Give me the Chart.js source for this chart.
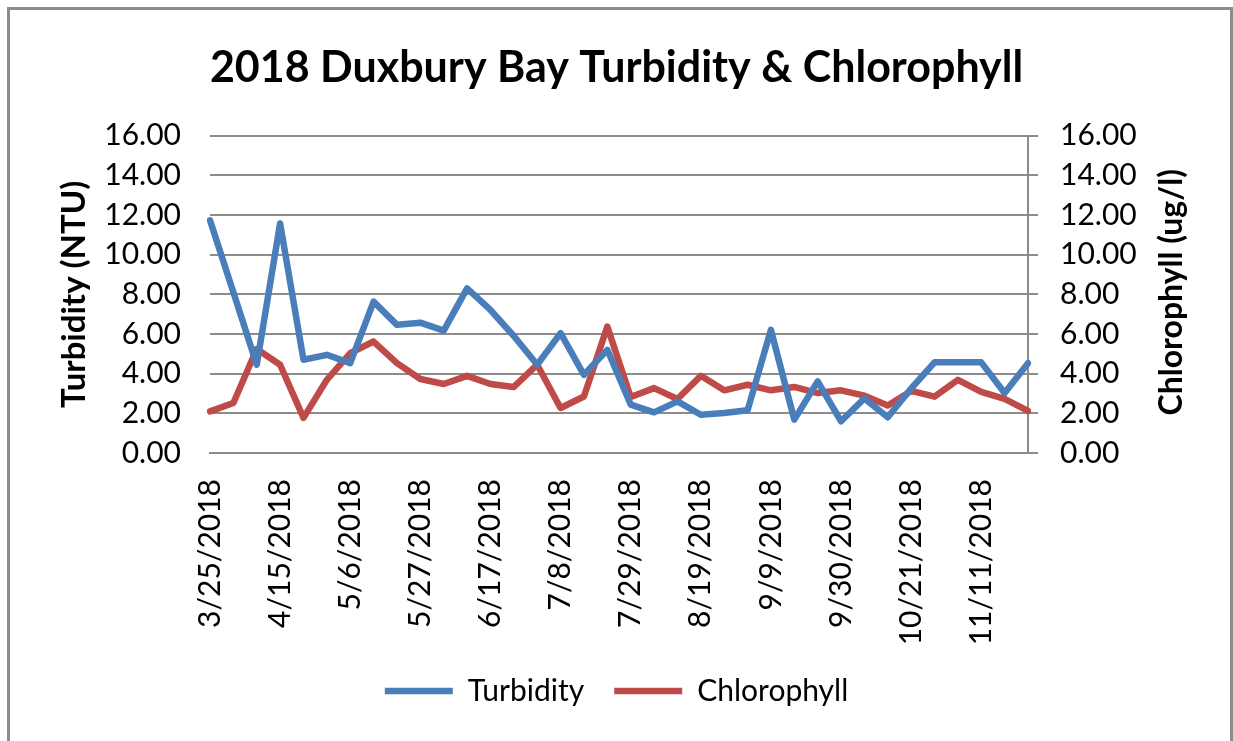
<!DOCTYPE html>
<html>
<head>
<meta charset="utf-8">
<script src="https://cdn.jsdelivr.net/npm/chart.js@4/dist/chart.umd.min.js"></script>
<style>
    body { margin: 0; background: #ffffff; }
    #marco {
        position: absolute; left: 7px; top: 7px; width: 1226px; height: 800px;
        box-sizing: border-box; border: 3px solid #8c8c8c;
    }
    #miGrafica { position: absolute; left: 0; top: 0; }
</style>
</head>
<body>
<div id="marco"></div>
<canvas id="miGrafica" width="1233" height="741"></canvas>
<script>
const fechas = [
    "3/25/2018", "4/1/2018", "4/8/2018", "4/15/2018", "4/22/2018", "4/29/2018",
    "5/6/2018", "5/13/2018", "5/20/2018", "5/27/2018", "6/3/2018", "6/10/2018",
    "6/17/2018", "6/24/2018", "7/1/2018", "7/8/2018", "7/15/2018", "7/22/2018",
    "7/29/2018", "8/5/2018", "8/12/2018", "8/19/2018", "8/26/2018", "9/2/2018",
    "9/9/2018", "9/16/2018", "9/23/2018", "9/30/2018", "10/7/2018", "10/14/2018",
    "10/21/2018", "10/28/2018", "11/4/2018", "11/11/2018", "11/18/2018", "11/25/2018"
];
const turbidity = [
    11.73, 8.1, 4.45, 11.57, 4.7, 4.95, 4.53, 7.63, 6.46, 6.57, 6.17, 8.3,
    7.21, 5.9, 4.45, 6.04, 3.94, 5.2, 2.44, 2.05, 2.6, 1.93, 2.02, 2.15,
    6.21, 1.68, 3.61, 1.6, 2.75, 1.8, 3.25, 4.57, 4.57, 4.57, 3.02, 4.53
];
const chlorophyll = [
    2.1, 2.52, 5.24, 4.45, 1.77, 3.69, 5.03, 5.62, 4.53, 3.73, 3.48, 3.89,
    3.48, 3.33, 4.45, 2.27, 2.85, 6.37, 2.82, 3.27, 2.72, 3.89, 3.16, 3.44,
    3.16, 3.33, 3.02, 3.16, 2.89, 2.39, 3.13, 2.84, 3.69, 3.08, 2.73, 2.12
];
const titulo = "2018 Duxbury Bay Turbidity & Chlorophyll";
const tituloIzq = "Turbidity (NTU)";
const tituloDer = "Chlorophyll (ug/l)";
const pasoEtiquetas = 3;

const gris = "#8c8c8c";
const fuente = "Lato";

// titulo del eje derecho, leido de abajo hacia arriba como en Excel
const tituloDerecho = {
    id: "tituloDerecho",
    afterDraw(chart) {
        const s = chart.scales.y1;
        const ctx = chart.ctx;
        ctx.save();
        ctx.translate(s.right - 61, (s.top + s.bottom) / 2 - 2);
        ctx.rotate(-Math.PI / 2);
        ctx.font = "bold 32px " + fuente;
        ctx.fillStyle = "#000000";
        ctx.textAlign = "center";
        ctx.textBaseline = "middle";
        ctx.fillText(tituloDer, 0, 0);
        ctx.restore();
    }
};

function crearGrafica() {
    const ctx = document.getElementById("miGrafica").getContext("2d");
    new Chart(ctx, {
        type: "line",
        data: {
            labels: fechas,
            datasets: [{
                label: "Turbidity",
                data: turbidity,
                borderColor: "#4a7ebb",
                backgroundColor: "#4a7ebb",
                borderWidth: 6.5,
                borderCapStyle: "round",
                borderJoinStyle: "round",
                pointRadius: 0,
                yAxisID: "y"
            }, {
                label: "Chlorophyll",
                data: chlorophyll,
                borderColor: "#be4b48",
                backgroundColor: "#be4b48",
                borderWidth: 6.5,
                borderCapStyle: "round",
                borderJoinStyle: "round",
                pointRadius: 0,
                yAxisID: "y1"
            }]
        },
        options: {
            responsive: false,
            animation: false,
            devicePixelRatio: 1,
            layout: { padding: { left: 0, right: 0, top: 0, bottom: 25 } },
            plugins: {
                title: {
                    display: true,
                    text: titulo,
                    color: "#000000",
                    font: { family: fuente, size: 43, weight: "bold", lineHeight: 1.2 },
                    padding: { top: 42, bottom: 42 }
                },
                legend: {
                    position: "bottom",
                    labels: {
                        color: "#000000",
                        font: { family: fuente, size: 30 },
                        usePointStyle: true,
                        pointStyle: "line",
                        pointStyleWidth: 68,
                        padding: 30
                    }
                },
                tooltip: { enabled: false }
            },
            scales: {
                x: {
                    grid: { display: false },
                    border: { display: true, color: gris, width: 2 },
                    ticks: {
                        autoSkip: false,
                        maxRotation: 90,
                        minRotation: 90,
                        padding: 18,
                        color: "#000000",
                        font: { family: fuente, size: 30 },
                        callback: function (v, i) {
                            return i % pasoEtiquetas === 0 ? fechas[i] : "";
                        }
                    },
                    afterFit: function (s) { s.height = 193; }
                },
                y: {
                    position: "left",
                    min: 0,
                    max: 16,
                    grid: { color: gris, lineWidth: 2, drawTicks: false },
                    border: { display: false },
                    ticks: {
                        stepSize: 2,
                        padding: 29,
                        color: "#000000",
                        font: { family: fuente, size: 30 },
                        callback: v => v.toFixed(2)
                    },
                    title: {
                        display: true,
                        text: tituloIzq,
                        color: "#000000",
                        font: { family: fuente, size: 33, weight: "bold", lineHeight: 1.2 },
                        padding: { top: 55, bottom: 0 }
                    },
                    afterFit: function (s) { s.width = 210; }
                },
                y1: {
                    position: "right",
                    min: 0,
                    max: 16,
                    grid: { color: gris, lineWidth: 2, drawOnChartArea: false, drawTicks: true, tickLength: 10 },
                    border: { display: true, color: gris, width: 2 },
                    ticks: {
                        stepSize: 2,
                        padding: 22,
                        color: "#000000",
                        font: { family: fuente, size: 30 },
                        callback: v => v.toFixed(2)
                    },
                    afterFit: function (s) { s.width = 205; }
                }
            }
        },
        plugins: [tituloDerecho]
    });
}

document.addEventListener("DOMContentLoaded", () => {
    Promise.all([
        document.fonts.load("bold 43px Lato"),
        document.fonts.load("30px Lato")
    ]).then(crearGrafica, crearGrafica);
});
</script>
</body>
</html>
